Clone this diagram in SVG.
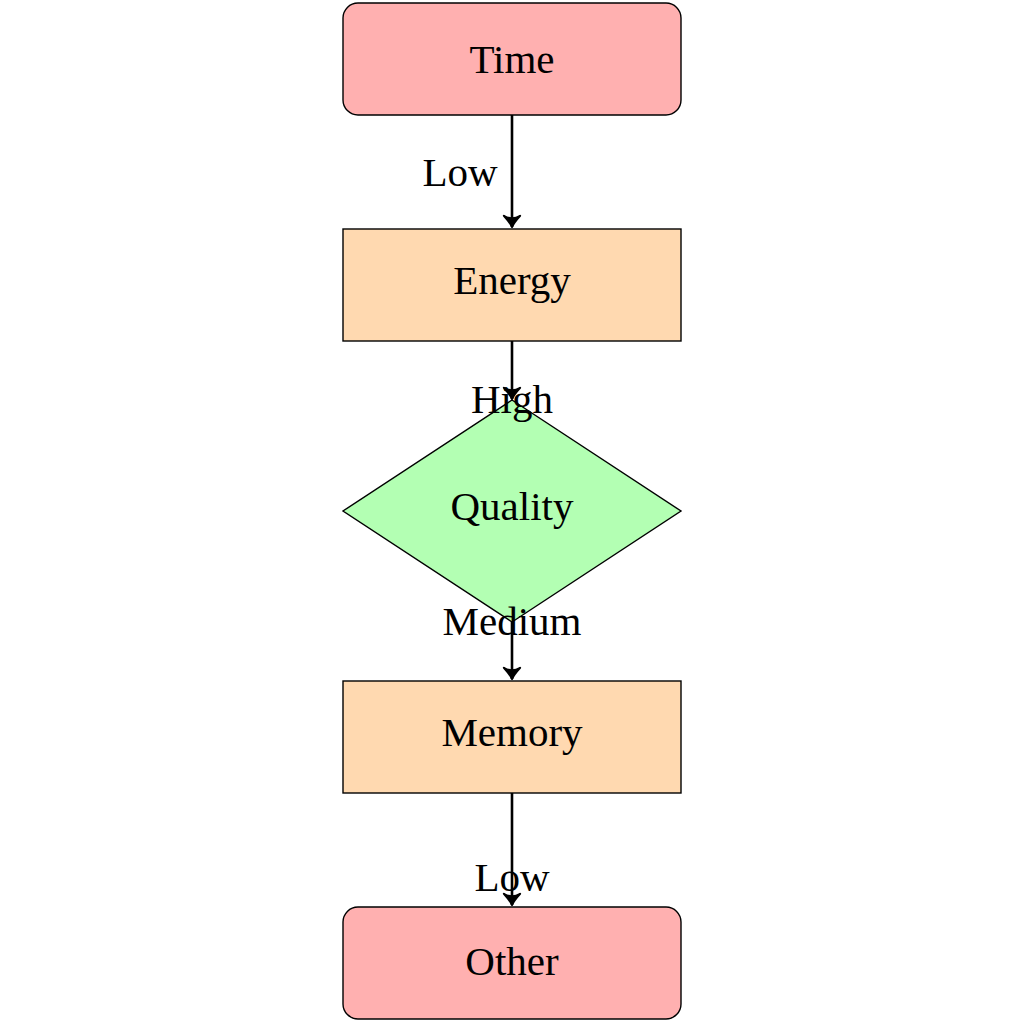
<svg xmlns="http://www.w3.org/2000/svg" width="1024" height="1024" viewBox="0 0 1024 1024">
<style>
.n{stroke:#000;stroke-width:1.4}
.t{font-family:"Liberation Serif","Times New Roman",serif;font-size:41px;text-anchor:middle;fill:#000}
.c{stroke:#000;stroke-width:2.6;fill:none}
</style>
<defs>
<marker id="ah" markerUnits="userSpaceOnUse" markerWidth="20" markerHeight="20" viewBox="-12 -8 14 16" refX="0" refY="0" orient="auto">
<path d="M-9,-6.5 Q-3.5,-1.5 0,0 Q-3.5,1.5 -9,6.5 Q-5,0 -9,-6.5 Z" fill="#000" stroke="#000" stroke-width="1.6" stroke-linejoin="round"/>
</marker>
</defs>
<rect width="1024" height="1024" fill="#fff"/>
<g id="node-time"><rect class="n" x="343" y="3" width="338" height="112" rx="15" fill="#FFB0B0"/><text class="t" x="512" y="73">Time</text></g>
<g id="node-energy"><rect class="n" x="343" y="229" width="338" height="112" fill="#FFD9B0"/><text class="t" x="512" y="294">Energy</text></g>
<g id="node-quality"><polygon class="n" points="512,400 681,511 512,622 343,511" fill="#B3FFB3"/><text class="t" x="512" y="520">Quality</text></g>
<g id="node-memory"><rect class="n" x="343" y="681" width="338" height="112" fill="#FFD9B0"/><text class="t" x="512" y="746">Memory</text></g>
<g id="node-other"><rect class="n" x="343" y="907" width="338" height="112" rx="15" fill="#FFB0B0"/><text class="t" x="512" y="975">Other</text></g>
<g id="connectors">
<line class="c" x1="512" y1="115" x2="512" y2="227" marker-end="url(#ah)"/>
<line class="c" x1="512" y1="341" x2="512" y2="399" marker-end="url(#ah)"/>
<line class="c" x1="512" y1="622" x2="512" y2="679" marker-end="url(#ah)"/>
<line class="c" x1="512" y1="793" x2="512" y2="905" marker-end="url(#ah)"/>
<text class="t" x="460" y="186">Low</text>
<text class="t" x="512" y="413">High</text>
<text class="t" x="512" y="635">Medium</text>
<text class="t" x="512" y="891">Low</text>
</g>
</svg>
